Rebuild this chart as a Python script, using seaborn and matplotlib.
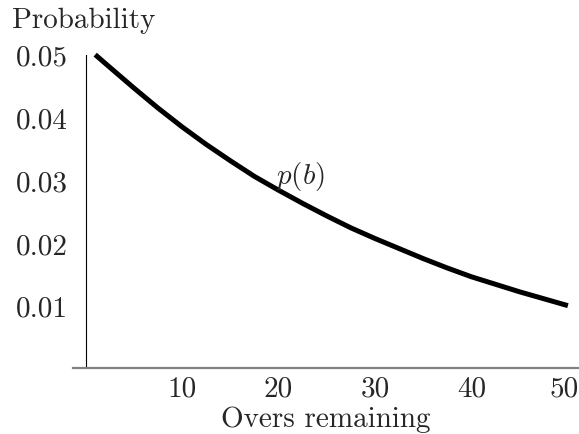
import matplotlib
matplotlib.use("Agg")
import matplotlib.pyplot as plt
from matplotlib.transforms import ScaledTranslation
import seaborn as sns
import pandas as pd

overs = [1, 2.5, 5, 7.5, 10, 12.5, 15, 17.5, 20, 22.5, 25, 27.5, 30, 32.5, 35, 37.5, 40, 42.5, 45, 47.5, 50]
prob = [0.0500, 0.0480, 0.0447, 0.0415, 0.0385, 0.0357, 0.0331, 0.0306, 0.0284, 0.0263, 0.0243, 0.0224, 0.0207, 0.0191, 0.0175, 0.0160, 0.0146, 0.0134, 0.0122, 0.0111, 0.0100]
xticks = [10, 20, 30, 40, 50]
yticks = [0.01, 0.02, 0.03, 0.04, 0.05]
ytick_labels = ["0.01", "0.02", "0.03", "0.04", "0.05"]

sns.set_style("white")
plt.rcParams["font.family"] = ["cmr10", "DejaVu Serif"]
plt.rcParams["mathtext.fontset"] = "cm"
plt.rcParams["axes.formatter.use_mathtext"] = True

df = pd.DataFrame({"Overs": overs, "p": prob})

fig = plt.figure(figsize=(5.79, 4.35), dpi=100)
ax = fig.add_axes([73 / 579, (435 - 369.4) / 435, 1 - 73 / 579, (369.4 - 52.5) / 435])
sns.lineplot(data=df, x="Overs", y="p", ax=ax, color="black", linewidth=3.6, solid_capstyle="butt")

ax.set_xlim(-1.3, 51.15)
ax.set_ylim(0, 0.0505)

for s in ["top", "right"]:
    ax.spines[s].set_visible(False)
ax.spines["left"].set_position(("data", 0))
ax.spines["left"].set_bounds(0, 0.05)
ax.spines["left"].set_color("black")
ax.spines["left"].set_linewidth(0.8)
ax.spines["bottom"].set_color("#808080")
ax.spines["bottom"].set_linewidth(1.6)

ax.set_xticks(xticks)
ax.set_xticklabels([str(t) for t in xticks])
ax.set_yticks(yticks)
ax.set_yticklabels(ytick_labels)
ax.tick_params(axis="x", direction="in", length=4, width=0.8, color="#808080", labelsize=21, pad=5)
ax.tick_params(axis="y", direction="in", length=4, width=0.8, color="black", labelsize=21, pad=13)

last = ax.get_xticklabels()[-1]
last.set_transform(last.get_transform() + ScaledTranslation(-4 / 100, 0, fig.dpi_scale_trans))

ax.set_xlabel("Overs remaining", fontsize=21, labelpad=3)
ax.set_ylabel("")
fig.text(12 / 579, 1 - 28 / 435, "Probability", fontsize=21, ha="left", va="baseline")
ax.text(22.2, 0.0307, "$p(b)$", fontsize=21, ha="center", va="center")

fig.savefig("out.png", dpi=100)
